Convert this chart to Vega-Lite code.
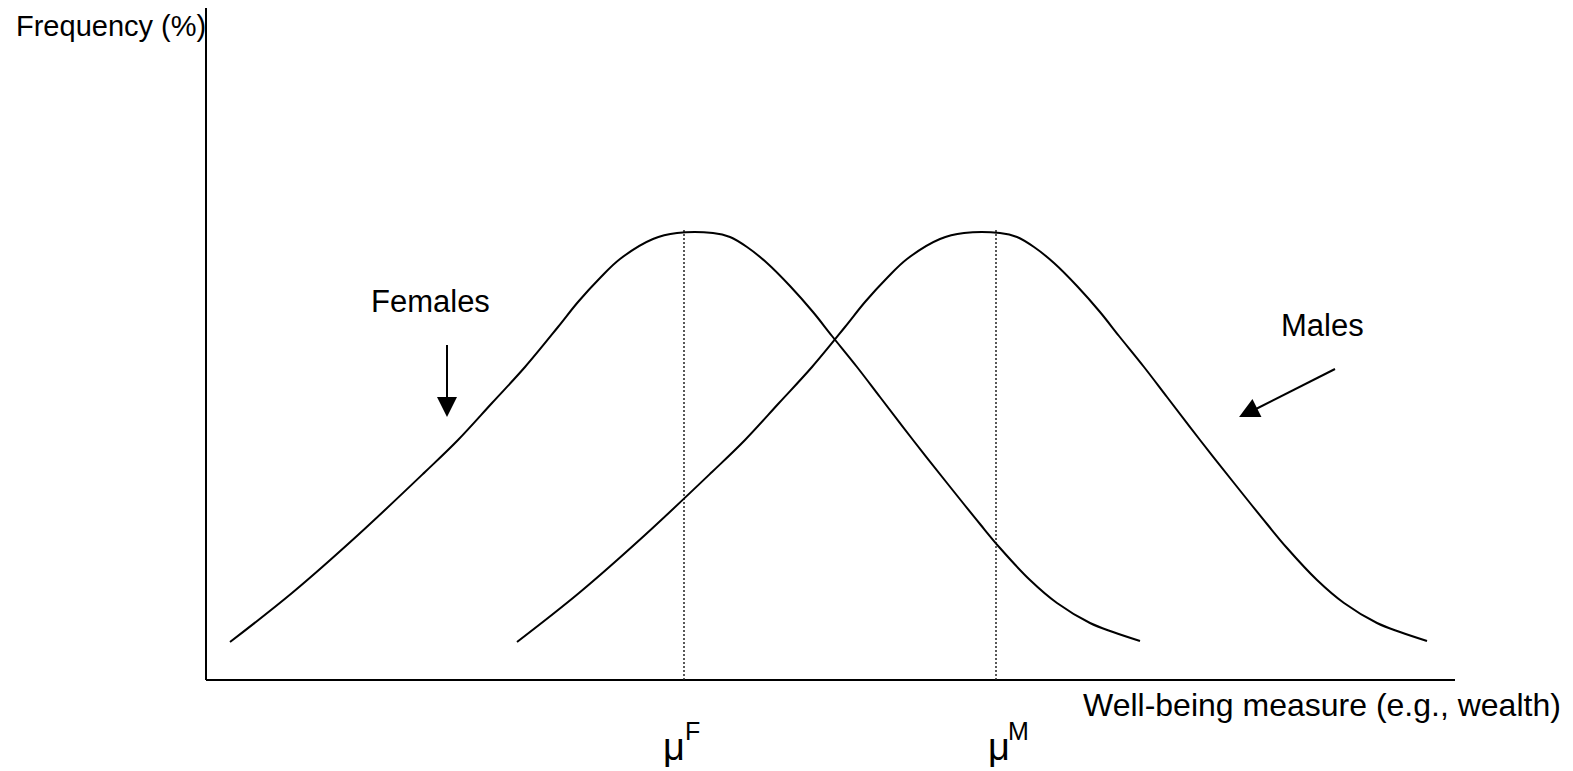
{
  "$schema": "https://vega.github.io/schema/vega-lite/v6.json",
  "width": 1573,
  "height": 771,
  "autosize": {"type": "fit", "contains": "padding"},
  "padding": 0,
  "background": "white",
  "config": {"view": {"stroke": null}, "text": {"font": "Liberation Sans"}},
  "datasets": {
    "curves": [
      {"group": "Females", "x": 24, "y": 38},
      {"group": "Females", "x": 86, "y": 87},
      {"group": "Females", "x": 152, "y": 145},
      {"group": "Females", "x": 219, "y": 208},
      {"group": "Females", "x": 252, "y": 240},
      {"group": "Females", "x": 286, "y": 277},
      {"group": "Females", "x": 319, "y": 313},
      {"group": "Females", "x": 352, "y": 353},
      {"group": "Females", "x": 372, "y": 378},
      {"group": "Females", "x": 394, "y": 402},
      {"group": "Females", "x": 414, "y": 421},
      {"group": "Females", "x": 447, "y": 441},
      {"group": "Females", "x": 471, "y": 447},
      {"group": "Females", "x": 507, "y": 447},
      {"group": "Females", "x": 524, "y": 443},
      {"group": "Females", "x": 541, "y": 433},
      {"group": "Females", "x": 561, "y": 417},
      {"group": "Females", "x": 584, "y": 394},
      {"group": "Females", "x": 607, "y": 368},
      {"group": "Females", "x": 626, "y": 344},
      {"group": "Females", "x": 651, "y": 313},
      {"group": "Females", "x": 674, "y": 283},
      {"group": "Females", "x": 707, "y": 240},
      {"group": "Females", "x": 741, "y": 197},
      {"group": "Females", "x": 774, "y": 156},
      {"group": "Females", "x": 794, "y": 132},
      {"group": "Females", "x": 824, "y": 100},
      {"group": "Females", "x": 851, "y": 77},
      {"group": "Females", "x": 884, "y": 57},
      {"group": "Females", "x": 907, "y": 48},
      {"group": "Females", "x": 934, "y": 39},
      {"group": "Males", "x": 311, "y": 38},
      {"group": "Males", "x": 373, "y": 87},
      {"group": "Males", "x": 439, "y": 145},
      {"group": "Males", "x": 506, "y": 208},
      {"group": "Males", "x": 539, "y": 240},
      {"group": "Males", "x": 573, "y": 277},
      {"group": "Males", "x": 606, "y": 313},
      {"group": "Males", "x": 639, "y": 353},
      {"group": "Males", "x": 659, "y": 378},
      {"group": "Males", "x": 681, "y": 402},
      {"group": "Males", "x": 701, "y": 421},
      {"group": "Males", "x": 734, "y": 441},
      {"group": "Males", "x": 758, "y": 447},
      {"group": "Males", "x": 794, "y": 447},
      {"group": "Males", "x": 811, "y": 443},
      {"group": "Males", "x": 828, "y": 433},
      {"group": "Males", "x": 848, "y": 417},
      {"group": "Males", "x": 871, "y": 394},
      {"group": "Males", "x": 894, "y": 368},
      {"group": "Males", "x": 913, "y": 344},
      {"group": "Males", "x": 938, "y": 313},
      {"group": "Males", "x": 961, "y": 283},
      {"group": "Males", "x": 994, "y": 240},
      {"group": "Males", "x": 1028, "y": 197},
      {"group": "Males", "x": 1061, "y": 156},
      {"group": "Males", "x": 1081, "y": 132},
      {"group": "Males", "x": 1111, "y": 100},
      {"group": "Males", "x": 1138, "y": 77},
      {"group": "Males", "x": 1171, "y": 57},
      {"group": "Males", "x": 1194, "y": 48},
      {"group": "Males", "x": 1221, "y": 39}
    ],
    "axes": [
      {"name": "yaxis", "x": 0, "y": 0, "x2": 0, "y2": 672},
      {"name": "xaxis", "x": 0, "y": 0, "x2": 1249, "y2": 0},
      {"name": "femaleArrow", "x": 241, "y": 335, "x2": 241, "y2": 280},
      {"name": "maleArrow", "x": 1129, "y": 311, "x2": 1046, "y2": 269}
    ],
    "means": [
      {"name": "muF", "x": 478, "y": 0, "y2": 450},
      {"name": "muM", "x": 790, "y": 0, "y2": 450}
    ],
    "heads": [
      {"name": "femaleHead", "x": 241, "y": 273, "angle": 0},
      {"name": "maleHead", "x": 1042, "y": 267.5, "angle": 63.4}
    ],
    "labels": [
      {"label": "Frequency (%)", "x": -190, "y": 644, "size": 29},
      {"label": "Females", "x": 165, "y": 368, "size": 31},
      {"label": "Males", "x": 1075, "y": 344, "size": 31},
      {"label": "Well-being measure (e.g., wealth)", "x": 877, "y": -36, "size": 32},
      {"label": "μ", "x": 457, "y": -80, "size": 38},
      {"label": "F", "x": 479, "y": -60, "size": 25},
      {"label": "μ", "x": 782, "y": -80, "size": 38},
      {"label": "M", "x": 802, "y": -60, "size": 25}
    ]
  },
  "layer": [
    {
      "data": {"name": "axes"},
      "mark": {"type": "rule", "color": "black", "strokeWidth": 2},
      "encoding": {
        "x": {"field": "x", "type": "quantitative", "scale": {"domain": [-206, 1367], "nice": false, "zero": false}, "axis": null},
        "y": {"field": "y", "type": "quantitative", "scale": {"domain": [-91, 680], "nice": false, "zero": false}, "axis": null},
        "x2": {"field": "x2"},
        "y2": {"field": "y2"}
      }
    },
    {
      "data": {"name": "means"},
      "mark": {"type": "rule", "color": "#222222", "strokeWidth": 1.5, "strokeDash": [2, 2]},
      "encoding": {
        "x": {"field": "x", "type": "quantitative", "scale": {"domain": [-206, 1367], "nice": false, "zero": false}, "axis": null},
        "y": {"field": "y", "type": "quantitative", "scale": {"domain": [-91, 680], "nice": false, "zero": false}, "axis": null},
        "y2": {"field": "y2"}
      }
    },
    {
      "data": {"name": "curves"},
      "mark": {"type": "line", "color": "black", "strokeWidth": 2, "interpolate": "catmull-rom"},
      "encoding": {
        "x": {"field": "x", "type": "quantitative", "scale": {"domain": [-206, 1367], "nice": false, "zero": false}, "axis": null},
        "y": {"field": "y", "type": "quantitative", "scale": {"domain": [-91, 680], "nice": false, "zero": false}, "axis": null},
        "detail": {"field": "group", "type": "nominal"}
      }
    },
    {
      "data": {"name": "heads"},
      "mark": {"type": "point", "shape": "M0,1L-1,-1L1,-1Z", "size": 400, "filled": true, "color": "black", "opacity": 1, "strokeWidth": 0},
      "encoding": {
        "x": {"field": "x", "type": "quantitative", "scale": {"domain": [-206, 1367], "nice": false, "zero": false}, "axis": null},
        "y": {"field": "y", "type": "quantitative", "scale": {"domain": [-91, 680], "nice": false, "zero": false}, "axis": null},
        "angle": {"field": "angle", "type": "quantitative", "scale": null}
      }
    },
    {
      "data": {"name": "labels"},
      "mark": {"type": "text", "align": "left", "baseline": "alphabetic", "color": "black", "font": "Liberation Sans"},
      "encoding": {
        "x": {"field": "x", "type": "quantitative", "scale": {"domain": [-206, 1367], "nice": false, "zero": false}, "axis": null},
        "y": {"field": "y", "type": "quantitative", "scale": {"domain": [-91, 680], "nice": false, "zero": false}, "axis": null},
        "text": {"field": "label", "type": "nominal"},
        "size": {"field": "size", "type": "quantitative", "scale": null, "legend": null}
      }
    }
  ]
}
